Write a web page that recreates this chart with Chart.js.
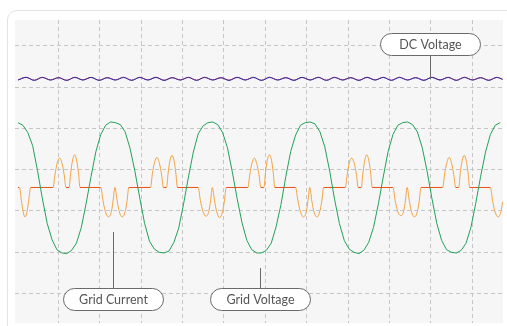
<!DOCTYPE html>
<html>
<head>
<meta charset="utf-8">
<script src="https://cdn.jsdelivr.net/npm/chart.js@4"></script>
<style>
  html, body { margin: 0; padding: 0; background: #fff; }
  .card {
    position: absolute; left: 7px; top: 10px; width: 540px; height: 360px;
    border: 1px solid #e3e3e3; border-radius: 10px; box-sizing: border-box;
  }
  #scope { position: absolute; left: 0; top: 0; }
</style>
</head>
<body>
<div class="card"></div>
<canvas id="scope" width="507" height="326"></canvas>
<script>
// sample step of the grid voltage trace, ms
const sampleMs = 1;

// grid voltage, p.u., one value per ms
const gridVoltage = [
  0.99, 0.95, 0.84, 0.64, 0.26, -0.17, -0.55, -0.80, -0.95, -1.00,
  -1.01, -0.96, -0.85, -0.61, -0.24, 0.17, 0.55, 0.81, 0.95, 1.00,
  0.99, 0.96, 0.85, 0.60, 0.25, -0.16, -0.55, -0.82, -0.94, -0.99,
  -1.00, -0.97, -0.84, -0.62, -0.25, 0.16, 0.54, 0.82, 0.94, 0.99,
  1.00, 0.96, 0.84, 0.61, 0.24, -0.17, -0.54, -0.81, -0.95, -1.00,
  -1.00, -0.96, -0.85, -0.60, -0.26, 0.17, 0.55, 0.80, 0.95, 0.99,
  1.00, 0.97, 0.85, 0.62, 0.25, -0.18, -0.55, -0.81, -0.94, -0.99,
  -1.01, -0.96, -0.84, -0.61, -0.25, 0.16, 0.55, 0.81, 0.95, 0.99,
  1.00, 0.96, 0.85, 0.61, 0.25, -0.17, -0.55, -0.81, -0.95, -0.99,
  -1.00, -0.96, -0.85, -0.61, -0.24, 0.17, 0.54, 0.81, 0.95, 0.99
];

// grid current: sample times (ms) and values (p.u.)
const currentTimes = [
  0, 0.3, 0.7, 1.05, 1.45, 1.85, 2.2, 2.6,
  7.2, 7.6, 8.0, 8.53, 9.07, 9.47, 9.87, 10.49, 10.83, 11.17, 11.62, 12.07, 12.41, 12.74,
  17.0, 17.45, 17.95, 18.6, 19.2, 19.55, 19.9, 20.35, 20.8, 21.4, 22.0, 22.4, 22.75,
  27.2, 27.6, 28.0, 28.53, 29.07, 29.47, 29.87, 30.49, 30.83, 31.17, 31.62, 32.07, 32.41, 32.74,
  37.0, 37.45, 37.95, 38.6, 39.2, 39.55, 39.9, 40.35, 40.8, 41.4, 42.0, 42.4, 42.75,
  47.2, 47.6, 48.0, 48.53, 49.07, 49.47, 49.87, 50.49, 50.83, 51.17, 51.62, 52.07, 52.41, 52.74,
  57.0, 57.45, 57.95, 58.6, 59.2, 59.55, 59.9, 60.35, 60.8, 61.4, 62.0, 62.4, 62.75,
  67.2, 67.6, 68.0, 68.53, 69.07, 69.47, 69.87, 70.49, 70.83, 71.17, 71.62, 72.07, 72.41, 72.74,
  77.0, 77.45, 77.95, 78.6, 79.2, 79.55, 79.9, 80.35, 80.8, 81.4, 82.0, 82.4, 82.75,
  87.2, 87.6, 88.0, 88.53, 89.07, 89.47, 89.87, 90.49, 90.83, 91.17, 91.62, 92.07, 92.41, 92.74,
  97.0, 97.45, 97.95, 98.6, 99.2, 99.5
];
const gridCurrent = [
  0, 0, -0.2, -0.37, -0.45, -0.37, -0.2, 0,
  0, 0.2, 0.36, 0.45, 0.36, 0.2, 0, 0, 0.23, 0.4, 0.5, 0.4, 0.23, 0,
  0, -0.2, -0.37, -0.45, -0.36, -0.19, 0, -0.2, -0.37, -0.45, -0.37, -0.2, 0,
  0, 0.21, 0.37, 0.46, 0.36, 0.2, 0, 0, 0.22, 0.4, 0.49, 0.4, 0.22, 0,
  0, -0.2, -0.36, -0.44, -0.36, -0.2, 0, -0.2, -0.37, -0.46, -0.37, -0.2, 0,
  0, 0.2, 0.36, 0.45, 0.35, 0.2, 0, 0, 0.23, 0.41, 0.5, 0.41, 0.23, 0,
  0, -0.19, -0.36, -0.45, -0.37, -0.2, 0, -0.21, -0.38, -0.45, -0.36, -0.2, 0,
  0, 0.2, 0.37, 0.45, 0.36, 0.21, 0, 0, 0.22, 0.4, 0.5, 0.4, 0.22, 0,
  0, -0.2, -0.36, -0.43, -0.36, -0.2, 0, -0.2, -0.37, -0.45, -0.37, -0.2, 0,
  0, 0.2, 0.36, 0.46, 0.36, 0.2, 0, 0, 0.23, 0.4, 0.49, 0.4, 0.23, 0,
  0, -0.2, -0.37, -0.45, -0.36, -0.22
];

// DC link voltage ripple: crest/trough times (ms) and levels (p.u.)
const dcTimes = [
  0, 1.67, 3.33, 5, 6.67, 8.33, 10, 11.67, 13.33, 15, 16.67, 18.33,
  20, 21.67, 23.33, 25, 26.67, 28.33, 30, 31.67, 33.33, 35, 36.67, 38.33,
  40, 41.67, 43.33, 45, 46.67, 48.33, 50, 51.67, 53.33, 55, 56.67, 58.33,
  60, 61.67, 63.33, 65, 66.67, 68.33, 70, 71.67, 73.33, 75, 76.67, 78.33,
  80, 81.67, 83.33, 85, 86.67, 88.33, 90, 91.67, 93.33, 95, 96.67, 98.33, 99.5
];
const dcVoltage = [
  1.64, 1.68, 1.635, 1.68, 1.64, 1.675, 1.635, 1.68, 1.64, 1.68, 1.635, 1.675,
  1.64, 1.68, 1.635, 1.68, 1.64, 1.68, 1.635, 1.675, 1.64, 1.68, 1.635, 1.68,
  1.64, 1.675, 1.635, 1.68, 1.64, 1.68, 1.635, 1.68, 1.64, 1.675, 1.635, 1.68,
  1.64, 1.68, 1.635, 1.68, 1.64, 1.675, 1.635, 1.68, 1.64, 1.68, 1.635, 1.68,
  1.64, 1.675, 1.635, 1.68, 1.64, 1.68, 1.635, 1.68, 1.64, 1.675, 1.635, 1.68, 1.65
];
const dcReference = [
  1.643, 1.683, 1.638, 1.682, 1.643, 1.678, 1.637, 1.683, 1.643, 1.682, 1.638, 1.678,
  1.643, 1.683, 1.638, 1.682, 1.643, 1.683, 1.637, 1.678, 1.643, 1.682, 1.638, 1.683,
  1.643, 1.678, 1.638, 1.683, 1.643, 1.682, 1.637, 1.683, 1.643, 1.678, 1.638, 1.682,
  1.643, 1.683, 1.638, 1.682, 1.643, 1.678, 1.637, 1.683, 1.643, 1.682, 1.638, 1.683,
  1.643, 1.678, 1.638, 1.683, 1.643, 1.682, 1.637, 1.683, 1.643, 1.678, 1.638, 1.682, 1.653
];

// grid divisions
const xTicks = [8.3, 16.8, 25.3, 33.8, 42.3, 50.8, 59.3, 67.8, 76.3, 84.8, 93.3];
const yTicks = [-1.618, -0.992, -0.351, 0.275, 0.901, 1.527, 2.168];

const pairs = (xs, ys) => ys.map((v, i) => ({ x: xs[i], y: v }));

const plotBackground = {
  id: 'plotBackground',
  beforeDraw(chart) {
    const { ctx, chartArea: a } = chart;
    ctx.save();
    ctx.fillStyle = '#f6f6f6';
    ctx.fillRect(a.left, a.top, a.width, a.height);
    ctx.restore();
  }
};

// rounded label boxes with a leader line to the trace
const callouts = {
  id: 'callouts',
  afterDatasetsDraw(chart, args, opts) {
    const { ctx, scales: { x, y } } = chart;
    const w = opts.width, h = opts.height, r = h / 2;
    ctx.save();
    ctx.font = opts.font;
    ctx.lineWidth = 1;
    opts.items.forEach(item => {
      const cx = Math.round(x.getPixelForValue(item.x)) + 0.5;
      const top = Math.round(y.getPixelForValue(item.y) - h / 2) + 0.5;
      const ty = y.getPixelForValue(item.target);
      const edge = ty < top ? top : top + h;
      ctx.strokeStyle = opts.lineColor;
      ctx.beginPath();
      ctx.moveTo(cx, edge);
      ctx.lineTo(cx, ty);
      ctx.stroke();
      const l = cx - w / 2, rt = cx + w / 2;
      ctx.beginPath();
      ctx.moveTo(l + r, top);
      ctx.lineTo(rt - r, top);
      ctx.arc(rt - r, top + r, r, -Math.PI / 2, Math.PI / 2);
      ctx.lineTo(l + r, top + h);
      ctx.arc(l + r, top + r, r, Math.PI / 2, Math.PI * 1.5);
      ctx.closePath();
      ctx.fillStyle = '#fff';
      ctx.fill();
      ctx.strokeStyle = opts.borderColor;
      ctx.stroke();
      ctx.fillStyle = opts.color;
      ctx.textAlign = 'center';
      ctx.textBaseline = 'middle';
      ctx.fillText(item.text, cx, top + h / 2 + 0.5);
    });
    ctx.restore();
  }
};

const gridStyle = { color: '#c6c6c6', lineWidth: 1, drawTicks: false, borderDash: [4, 3] };
const borderStyle = { display: false, dash: [4, 3] };

// current is red while it sits at zero, pale orange while conducting
const currentColor = c =>
  c.p0.parsed.y === 0 && c.p1.parsed.y === 0 ? '#ec5014' : '#f2a345';

new Chart(document.getElementById('scope'), {
  type: 'line',
  data: {
    datasets: [
      {
        label: 'Grid Voltage',
        data: gridVoltage.map((v, i) => ({ x: i * sampleMs, y: v })),
        borderColor: '#25a05a',
        borderWidth: 1
      },
      {
        label: 'Grid Current',
        data: pairs(currentTimes, gridCurrent),
        borderColor: '#f2a345',
        segment: { borderColor: currentColor },
        borderWidth: 1,
        cubicInterpolationMode: 'monotone'
      },
      {
        label: 'DC Voltage',
        data: pairs(dcTimes, dcVoltage),
        borderColor: '#2d2f9e',
        borderWidth: 1,
        cubicInterpolationMode: 'monotone'
      },
      {
        label: 'DC Voltage Ref',
        data: pairs(dcTimes, dcReference),
        borderColor: '#c9356e',
        borderWidth: 1,
        cubicInterpolationMode: 'monotone'
      }
    ]
  },
  options: {
    responsive: false,
    animation: false,
    events: [],
    layout: { padding: { left: 15, top: 20, right: 4, bottom: 3 } },
    elements: { point: { radius: 0 }, line: { fill: false } },
    scales: {
      x: {
        type: 'linear', min: -0.616, max: 99.59,
        ticks: { display: false },
        grid: gridStyle, border: borderStyle,
        afterBuildTicks: s => { s.ticks = xTicks.map(v => ({ value: v })); }
      },
      y: {
        type: 'linear', min: -2.069, max: 2.557,
        ticks: { display: false },
        grid: gridStyle, border: borderStyle,
        afterBuildTicks: s => { s.ticks = yTicks.map(v => ({ value: v })); }
      }
    },
    plugins: {
      legend: { display: false },
      tooltip: { enabled: false },
      callouts: {
        width: 100, height: 22,
        font: '12.5px Lato',
        color: '#555',
        borderColor: '#6a6a6a',
        lineColor: '#6a6a6a',
        items: [
          { text: 'DC Voltage', x: 84.5, y: 2.183, target: 1.656 },
          { text: 'Grid Current', x: 19.61, y: -1.695, target: -0.679 },
          { text: 'Grid Voltage', x: 49.59, y: -1.695, target: -1.229 }
        ]
      }
    }
  },
  plugins: [plotBackground, callouts]
});
</script>
</body>
</html>
